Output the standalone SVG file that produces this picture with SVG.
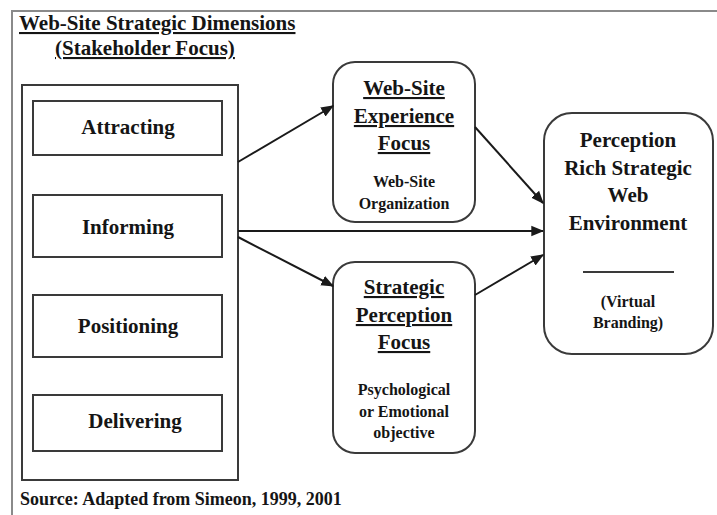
<svg xmlns="http://www.w3.org/2000/svg" width="717" height="515" viewBox="0 0 717 515">
  <style>
    text { font-weight: bold; fill: #151515; text-anchor: middle; }
    .ul { text-decoration: underline; }
    .title { font-size: 21px; text-anchor: start; }
    .big { font-size: 21px; }
    .small { font-size: 16px; }
    .note { font-size: 18px; text-anchor: start; }
    .box { fill: #ffffff; stroke: #3a3a3a; stroke-width: 2; }
    .frame { fill: none; stroke: #8a8a8a; stroke-width: 2; }
    .conn { fill: none; stroke: #1a1a1a; stroke-width: 2; marker-end: url(#arrow); }
  </style>
  <defs>
    <marker id="arrow" viewBox="0 0 10 10" refX="9" refY="5" markerWidth="6.5" markerHeight="6.5" orient="auto" markerUnits="strokeWidth">
      <path d="M0,1 L10,5 L0,9 z" fill="#1a1a1a"/>
    </marker>
  </defs>
  <rect width="717" height="515" fill="#ffffff"/>

  <g font-family="Liberation Serif, Times New Roman, serif">
    <!-- page frame -->
    <path class="frame" d="M12,515 V11 H717"/>

    <!-- heading -->
    <g id="heading">
      <text class="title ul" x="19" y="30">Web-Site Strategic Dimensions</text>
      <text class="title ul" x="55" y="55">(Stakeholder Focus)</text>
    </g>

    <!-- stakeholder dimensions -->
    <g id="dimensions">
      <rect class="box" x="22" y="85" width="216" height="395"/>
    </g>
    <g id="attracting">
      <rect class="box" x="33" y="101" width="189" height="54"/>
      <text class="big" x="128" y="134">Attracting</text>
    </g>
    <g id="informing">
      <rect class="box" x="33" y="195" width="189" height="62"/>
      <text class="big" x="128" y="234">Informing</text>
    </g>
    <g id="positioning">
      <rect class="box" x="33" y="295" width="189" height="62"/>
      <text class="big" x="128" y="333">Positioning</text>
    </g>
    <g id="delivering">
      <rect class="box" x="33" y="395" width="189" height="56"/>
      <text class="big" x="135" y="428">Delivering</text>
    </g>

    <!-- web-site experience focus -->
    <g id="experience">
      <rect class="box" x="333" y="62" width="142" height="160" rx="22"/>
      <text class="big ul" x="404" y="95">Web-Site</text>
      <text class="big ul" x="404" y="123">Experience</text>
      <text class="big ul" x="404" y="150">Focus</text>
      <text class="small" x="404" y="187">Web-Site</text>
      <text class="small" x="404" y="209">Organization</text>
    </g>

    <!-- strategic perception focus -->
    <g id="perception-focus">
      <rect class="box" x="333" y="262" width="142" height="191" rx="22"/>
      <text class="big ul" x="404" y="294">Strategic</text>
      <text class="big ul" x="404" y="322">Perception</text>
      <text class="big ul" x="404" y="349">Focus</text>
      <text class="small" x="404" y="395">Psychological</text>
      <text class="small" x="404" y="417">or Emotional</text>
      <text class="small" x="404" y="438">objective</text>
    </g>

    <!-- perception rich strategic web environment -->
    <g id="environment">
      <rect class="box" x="544" y="113" width="169" height="241" rx="28"/>
      <text class="big" x="628" y="147">Perception</text>
      <text class="big" x="628" y="175">Rich Strategic</text>
      <text class="big" x="628" y="202">Web</text>
      <text class="big" x="628" y="230">Environment</text>
      <line x1="583" y1="272" x2="674" y2="272" stroke="#3a3a3a" stroke-width="2"/>
      <text class="small" x="628" y="307">(Virtual</text>
      <text class="small" x="628" y="328">Branding)</text>
    </g>

    <!-- connectors -->
    <g id="connectors">
      <line class="conn" x1="238" y1="162" x2="333" y2="106"/>
      <line class="conn" x1="238" y1="231" x2="543" y2="231"/>
      <line class="conn" x1="238" y1="237" x2="333" y2="286"/>
      <line class="conn" x1="475" y1="127" x2="543" y2="203"/>
      <line class="conn" x1="475" y1="295" x2="543" y2="255"/>
    </g>

    <!-- source note -->
    <text class="note" x="20" y="505">Source: Adapted from Simeon, 1999, 2001</text>
  </g>
</svg>
